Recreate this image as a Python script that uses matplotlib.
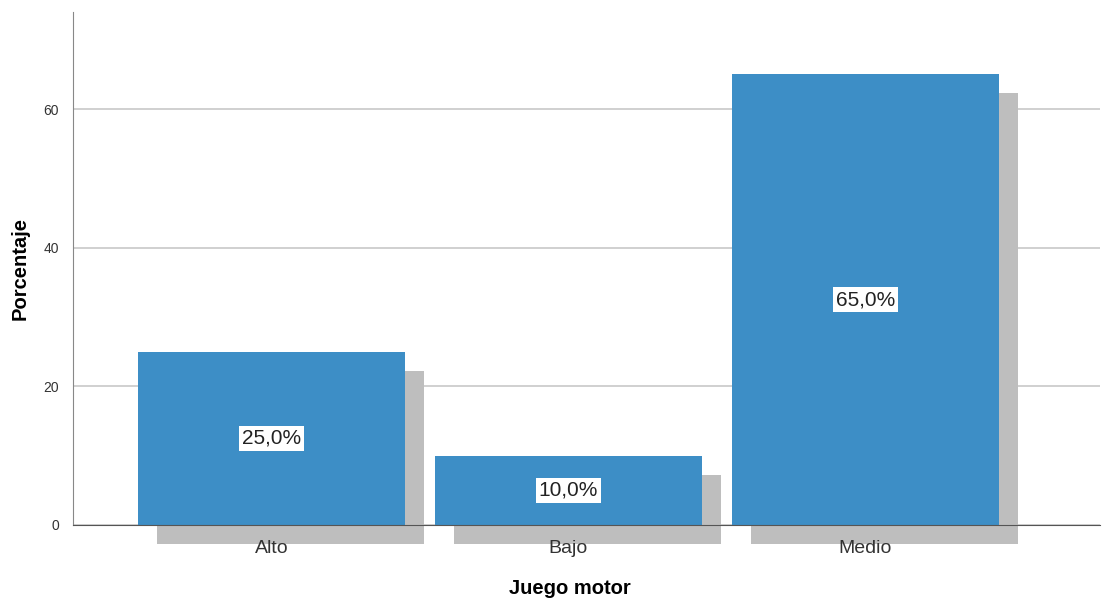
import matplotlib
matplotlib.use('Agg')
import matplotlib.pyplot as plt
import numpy as np

plt.rcParams['font.family'] = ['Liberation Sans', 'DejaVu Sans']

# data
categories = ['Alto', 'Bajo', 'Medio']
percent = [25.0, 10.0, 65.0]
bar_labels = ['25,0%', '10,0%', '65,0%']

bar_color = '#3d8ec6'
shadow_color = '#bebebe'

fig = plt.figure(figsize=(11.02, 6.0), dpi=100)
ax = fig.add_axes([0.0662, 0.125, 0.932, 0.855])

x = np.arange(len(categories))
width = 0.9
dx = 0.064  # shadow offset in x (data units)
dy = 2.74   # shadow offset in y (data units)

# shadows first, drawn below the axis line
ax.bar(x + dx, percent, width=width, bottom=-dy, color=shadow_color,
       zorder=2, clip_on=False)
ax.bar(x, percent, width=width, color=bar_color, zorder=3)

for xi, v, lab in zip(x, percent, bar_labels):
    ax.text(xi, v / 2, lab, ha='center', va='center', fontsize=15, color='#222222',
            zorder=5, bbox=dict(facecolor='white', edgecolor='none', pad=2.0))

ax.set_xlim(-0.668, 2.79)
ax.set_ylim(0, 74)
ax.set_yticks([0, 20, 40, 60])
ax.set_xticks(x)
ax.set_xticklabels(categories, fontsize=14, color='#333333')
ax.tick_params(axis='y', length=0, labelsize=10, pad=10, colors='#333333')
ax.tick_params(axis='x', length=0, pad=11)
ax.yaxis.grid(True, color='#c8c8c8', linewidth=1.2)
ax.set_axisbelow(True)
ax.xaxis.set_zorder(6)

for s in ['top', 'right']:
    ax.spines[s].set_visible(False)
ax.spines['left'].set_color('#888888')
ax.spines['bottom'].set_color('#555555')
ax.spines['bottom'].set_zorder(4)

# axis titles placed directly in figure coords
fig.text(20 / 1102, 1 - 268 / 600, 'Porcentaje', rotation=90, ha='center', va='center',
         fontsize=14.5, fontweight='bold')
fig.text(570 / 1102, 1 - 589 / 600, 'Juego motor', ha='center', va='center',
         fontsize=14.5, fontweight='bold')

fig.savefig('out.png', dpi=100)
